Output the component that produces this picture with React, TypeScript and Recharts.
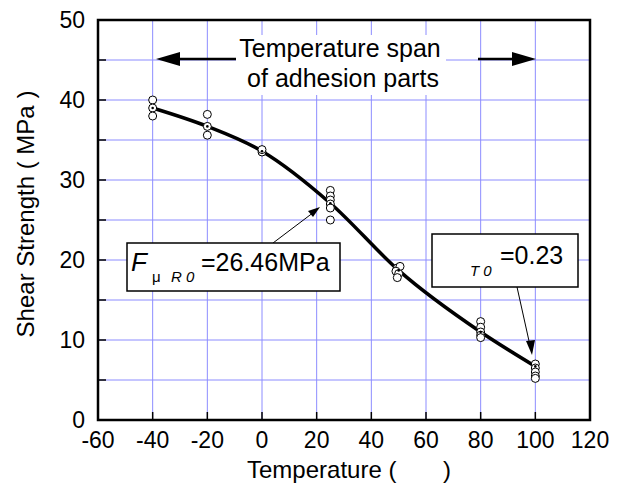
import {
  ComposedChart,
  Line,
  Scatter,
  XAxis,
  YAxis,
  CartesianGrid,
  ReferenceArea,
} from "recharts";

// temperature (°C) of each test group and the fitted mean curve
const groupTemps = [-40, -20, 0, 25, 50, 80, 100];
const meanStrength = [39.0, 36.7, 33.6, 27.1, 18.7, 11.0, 6.7];

// individual specimens
const sampleTemps = [
  -40, -40, -40, -20, -20, -20, 0, 0, 25, 25, 25, 25, 25, 25, 49.5, 50.5, 49,
  50, 49.5, 80, 80, 80, 80, 80, 100, 100, 100, 100, 100,
];
const sampleStrength = [
  40.0, 39.0, 38.0, 38.2, 36.7, 35.6, 33.5, 33.8, 28.7, 28.0, 27.5, 27.0, 26.5,
  25.0, 19.0, 19.2, 18.6, 18.3, 17.8, 12.3, 11.6, 11.0, 10.6, 10.3, 7.0, 6.5,
  6.0, 5.5, 5.2,
];

const xTicks = [-60, -40, -20, 0, 20, 40, 60, 80, 100, 120];
const yTicks = [0, 5, 10, 15, 20, 25, 30, 35, 40, 45, 50];

const lineData = groupTemps.map((t, i) => ({ x: t, y: meanStrength[i] }));
const sampleData = sampleTemps.map((t, i) => ({ x: t, y: sampleStrength[i] }));

const FONT = "'Liberation Sans', Arial, sans-serif";
const GRID = "#8c8cff";

const OpenCircle = (props: any) => (
  <circle cx={props.cx} cy={props.cy} r={4} fill="#fff" stroke="#000" strokeWidth={1} />
);
const SmallDot = (props: any) => (
  <circle cx={props.cx} cy={props.cy} r={1.3} fill="#000" />
);

function Annotations() {
  return (
    <svg
      width={626}
      height={494}
      style={{ position: "absolute", left: 0, top: 0, pointerEvents: "none" }}
      fontFamily={FONT}
    >
      {/* temperature span */}
      <rect x={236} y={35} width={210} height={60} fill="#fff" />
      <text x={340} y={57} fontSize={25} textAnchor="middle">
        Temperature span
      </text>
      <text x={343} y={87} fontSize={25} textAnchor="middle">
        of adhesion parts
      </text>
      <line x1={236} y1={59} x2={176} y2={59} stroke="#000" strokeWidth={2.5} />
      <polygon points="156,59 180,52 180,66" fill="#000" />
      <line x1={478} y1={59} x2={516} y2={59} stroke="#000" strokeWidth={2.5} />
      <polygon points="536,59 512,52 512,66" fill="#000" />

      {/* F box */}
      <line x1={273} y1={243} x2={318} y2={209} stroke="#000" strokeWidth={1} />
      <polygon points="320,207 308,211 313,217" fill="#000" />
      <rect x={127} y={243} width={213} height={48} fill="#fff" stroke="#000" strokeWidth={1.5} />
      <text x={131} y={271} fontSize={26} fontStyle="italic">
        F
      </text>
      <text x={152} y={282} fontSize={15}>
        μ
      </text>
      <text x={171} y={282} fontSize={15} fontStyle="italic">
        R 0
      </text>
      <text x={201} y={271} fontSize={25}>
        =26.46MPa
      </text>

      {/* T0 box */}
      <line x1={517} y1={287} x2={531} y2={350} stroke="#000" strokeWidth={1} />
      <polygon points="532,355 526,341 535,340" fill="#000" />
      <rect x={432} y={234} width={146} height={53} fill="#fff" stroke="#000" strokeWidth={1.5} />
      <text x={470} y={276} fontSize={15} fontStyle="italic">
        T 0
      </text>
      <text x={500} y={264} fontSize={25}>
        =0.23
      </text>

      {/* axis titles */}
      <text
        x={34}
        y={214}
        fontSize={24}
        textAnchor="middle"
        transform="rotate(-90 34 214)"
        xmlSpace="preserve"
      >
        Shear Strength ( MPa )
      </text>
      <text x={247} y={478} fontSize={24} xmlSpace="preserve">
        Temperature (       )
      </text>
    </svg>
  );
}

export default function App() {
  return (
    <div
      style={{
        position: "absolute",
        left: 0,
        top: 0,
        width: 626,
        height: 494,
        background: "#fff",
      }}
    >
      <ComposedChart
        width={626}
        height={494}
        margin={{ top: 20, right: 36, bottom: 44, left: 38 }}
      >
        <CartesianGrid stroke={GRID} strokeWidth={1} />
        <XAxis
          dataKey="x"
          type="number"
          domain={[-60, 120]}
          ticks={xTicks}
          interval={0}
          height={30}
          axisLine={false}
          tickSize={-8}
          tickMargin={20}
          tickLine={{ stroke: "#000", strokeWidth: 1.5 }}
          tick={{ fill: "#000", fontSize: 23, fontFamily: FONT }}
        />
        <YAxis
          type="number"
          domain={[0, 50]}
          ticks={yTicks}
          interval={0}
          width={60}
          axisLine={false}
          tickSize={-8}
          tickMargin={21}
          tickFormatter={(v: number) => (v % 10 === 0 ? String(v) : "")}
          tickLine={{ stroke: "#000", strokeWidth: 1.5 }}
          tick={{ fill: "#000", fontSize: 23, fontFamily: FONT }}
        />
        <ReferenceArea
          x1={-60}
          x2={120}
          y1={0}
          y2={50}
          fill="none"
          stroke="#000"
          strokeWidth={2.5}
          fillOpacity={0}
        />
        <Line
          data={lineData}
          dataKey="y"
          type="monotone"
          stroke="#000"
          strokeWidth={3.5}
          dot={false}
          isAnimationActive={false}
        />
        <Scatter
          data={sampleData}
          dataKey="y"
          shape={OpenCircle}
          isAnimationActive={false}
        />
        <Scatter
          data={lineData}
          dataKey="y"
          shape={SmallDot}
          isAnimationActive={false}
        />
      </ComposedChart>
      <Annotations />
    </div>
  );
}
